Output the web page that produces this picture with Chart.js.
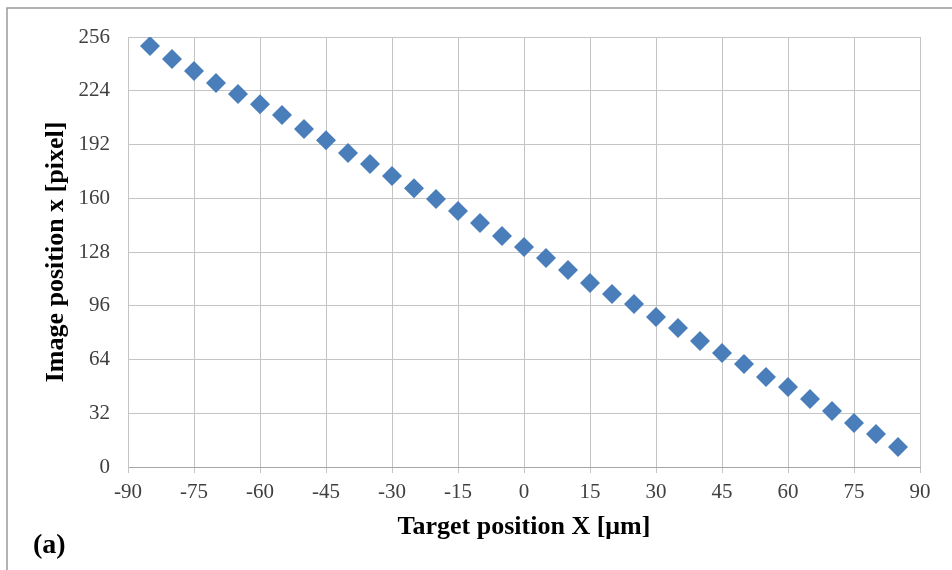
<!DOCTYPE html>
<html>
<head>
<meta charset="utf-8">
<script src="https://cdn.jsdelivr.net/npm/chart.js@4/dist/chart.umd.min.js"></script>
<style>
  html, body { margin: 0; padding: 0; background: #fff; }
  #wrap { width: 952px; height: 570px; position: relative; }
</style>
</head>
<body>
<div id="wrap"><canvas id="calibChart" width="952" height="570"></canvas></div>
<script>
// target position X [um] and measured image position x [pixel]
const targetX = [-85, -80, -75, -70, -65, -60, -55, -50, -45, -40, -35, -30, -25, -20, -15, -10, -5,
    0, 5, 10, 15, 20, 25, 30, 35, 40, 45, 50, 55, 60, 65, 70, 75, 80, 85];
const imageX = [250.6, 242.9, 235.7, 228.6, 222.0, 216.0, 209.5, 201.2, 194.6, 186.9, 180.4, 173.2,
    166.0, 159.5, 152.4, 145.2, 137.5, 131.0, 124.4, 117.3, 109.5, 103.0, 97.0, 89.3, 82.7, 75.0,
    67.9, 61.3, 53.6, 47.6, 40.5, 33.3, 26.2, 19.6, 11.9];
const xTicks = [-90, -75, -60, -45, -30, -15, 0, 15, 30, 45, 60, 75, 90];
const yTicks = [0, 32, 64, 96, 128, 160, 192, 224, 256];

const serif = '"Liberation Serif", "Times New Roman", serif';

// frame lines and the "(a)" panel label
const decor = {
    id: 'decor',
    beforeDraw(chart) {
        const ctx = chart.ctx;
        ctx.save();
        ctx.fillStyle = '#fff';
        ctx.fillRect(0, 0, chart.width, chart.height);
        ctx.strokeStyle = '#9a9a9a';
        ctx.lineWidth = 1.5;
        ctx.beginPath();
        ctx.moveTo(7, chart.height);
        ctx.lineTo(7, 8);
        ctx.lineTo(chart.width, 8);
        ctx.stroke();
        ctx.restore();
    },
    afterDraw(chart) {
        const ctx = chart.ctx;
        ctx.save();
        ctx.fillStyle = '#000';
        ctx.font = 'bold 28px ' + serif;
        ctx.textBaseline = 'middle';
        ctx.fillText('(a)', 33, 546);
        ctx.restore();
    }
};

new Chart(document.getElementById('calibChart'), {
    type: 'scatter',
    data: {
        datasets: [{
            label: 'Image position',
            data: targetX.map((x, i) => ({ x: x, y: imageX[i] })),
            pointStyle: 'rectRot',
            pointRadius: 10,
            pointHoverRadius: 10,
            backgroundColor: '#4a7ebb',
            borderWidth: 0
        }]
    },
    options: {
        responsive: false,
        animation: false,
        events: [],
        layout: { padding: { left: 40, right: 32, top: 37, bottom: 27 } },
        plugins: {
            legend: { display: false },
            tooltip: { enabled: false }
        },
        scales: {
            x: {
                type: 'linear',
                min: -90,
                max: 90,
                afterBuildTicks: (scale) => { scale.ticks = xTicks.map(v => ({ value: v })); },
                afterFit: (scale) => { scale.height = 76; },
                grid: { color: '#c4c4c4', lineWidth: 1, drawTicks: true, tickLength: 6 },
                border: { color: '#a6a6a6' },
                ticks: {
                    color: '#404040',
                    padding: 7,
                    maxRotation: 0,
                    font: { family: serif, size: 21 }
                },
                title: {
                    display: true,
                    text: 'Target position X [μm]',
                    color: '#000',
                    padding: { top: 0, bottom: 0 },
                    font: { family: serif, size: 26, weight: 'bold' }
                }
            },
            y: {
                type: 'linear',
                min: 0,
                max: 256,
                afterBuildTicks: (scale) => { scale.ticks = yTicks.map(v => ({ value: v })); },
                afterFit: (scale) => { scale.width = 88; },
                grid: { color: '#c4c4c4', lineWidth: 1, drawTicks: false },
                border: { color: '#c4c4c4' },
                ticks: {
                    color: '#404040',
                    padding: 18,
                    font: { family: serif, size: 21 }
                },
                title: {
                    display: true,
                    text: 'Image position x [pixel]',
                    color: '#000',
                    padding: { top: 1, bottom: 0 },
                    font: { family: serif, size: 26, weight: 'bold' }
                }
            }
        }
    },
    plugins: [decor]
});
</script>
</body>
</html>
